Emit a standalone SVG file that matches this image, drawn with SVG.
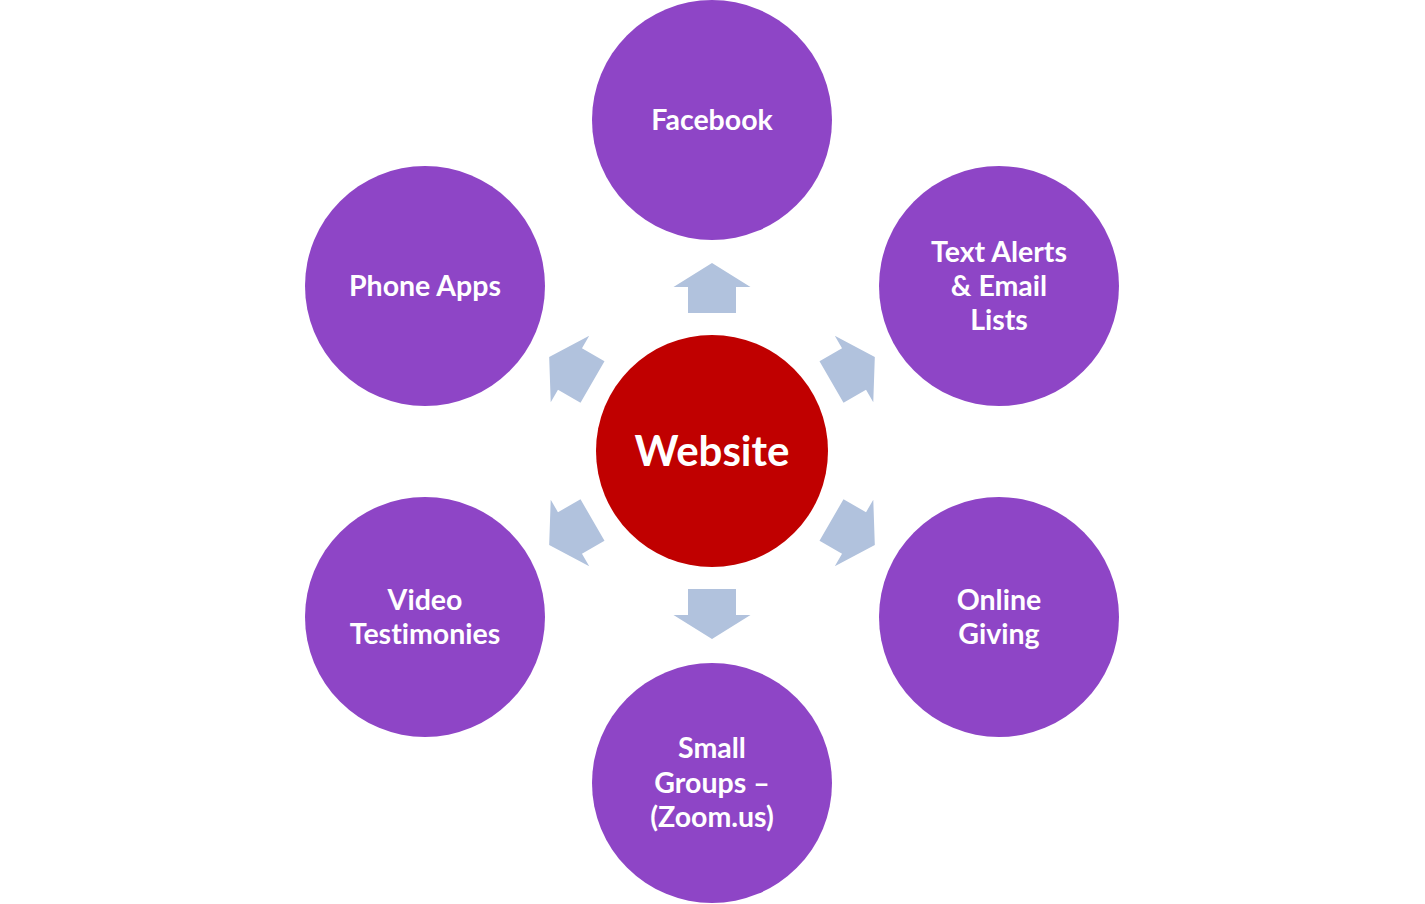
<svg xmlns="http://www.w3.org/2000/svg" xmlns:xlink="http://www.w3.org/1999/xlink" width="1425" height="904" viewBox="0 0 1425 904">
<style>
.sat{fill:#8E45C6;}
.hub{fill:#C00000;}
.arr{fill:#B1C2DD;}
.lbl{font-family:"Lato","Liberation Sans",sans-serif;font-weight:bold;font-size:28.5px;fill:#FFFFFF;text-anchor:middle;font-variant-ligatures:none;}
.hubl{font-family:"Lato","Liberation Sans",sans-serif;font-weight:bold;font-size:42px;fill:#FFFFFF;text-anchor:middle;font-variant-ligatures:none;}
</style>
<defs>
<polygon id="arrow" class="arr" points="-24,-138 -24,-164 -38.5,-164 0,-188 38.5,-164 24,-164 24,-138"/>
</defs>
<rect width="1425" height="904" fill="#FFFFFF"/>
<g id="connectors" transform="translate(712,451)">
<use xlink:href="#arrow" href="#arrow" transform="rotate(0)"/>
<use xlink:href="#arrow" href="#arrow" transform="rotate(60)"/>
<use xlink:href="#arrow" href="#arrow" transform="rotate(120)"/>
<use xlink:href="#arrow" href="#arrow" transform="rotate(180)"/>
<use xlink:href="#arrow" href="#arrow" transform="rotate(240)"/>
<use xlink:href="#arrow" href="#arrow" transform="rotate(300)"/>
</g>
<g id="website">
<circle class="hub" cx="712" cy="451" r="116"/>
<text class="hubl" x="712" y="466">Website</text>
</g>
<g id="facebook">
<circle class="sat" cx="712" cy="120" r="120"/>
<text class="lbl" x="712" y="130">Facebook</text>
</g>
<g id="text-alerts">
<circle class="sat" cx="999" cy="286" r="120"/>
<text class="lbl" x="999" y="262">Text Alerts</text>
<text class="lbl" x="999" y="296">&amp; Email</text>
<text class="lbl" x="999" y="330">Lists</text>
</g>
<g id="online-giving">
<circle class="sat" cx="999" cy="617" r="120"/>
<text class="lbl" x="999" y="610">Online</text>
<text class="lbl" x="999" y="644">Giving</text>
</g>
<g id="small-groups">
<circle class="sat" cx="712" cy="783" r="120"/>
<text class="lbl" x="712" y="758">Small</text>
<text class="lbl" x="712" y="793">Groups –</text>
<text class="lbl" x="712" y="827">(Zoom.us)</text>
</g>
<g id="video-testimonies">
<circle class="sat" cx="425" cy="617" r="120"/>
<text class="lbl" x="425" y="610">Video</text>
<text class="lbl" x="425" y="644">Testimonies</text>
</g>
<g id="phone-apps">
<circle class="sat" cx="425" cy="286" r="120"/>
<text class="lbl" x="425" y="296">Phone Apps</text>
</g>
</svg>
